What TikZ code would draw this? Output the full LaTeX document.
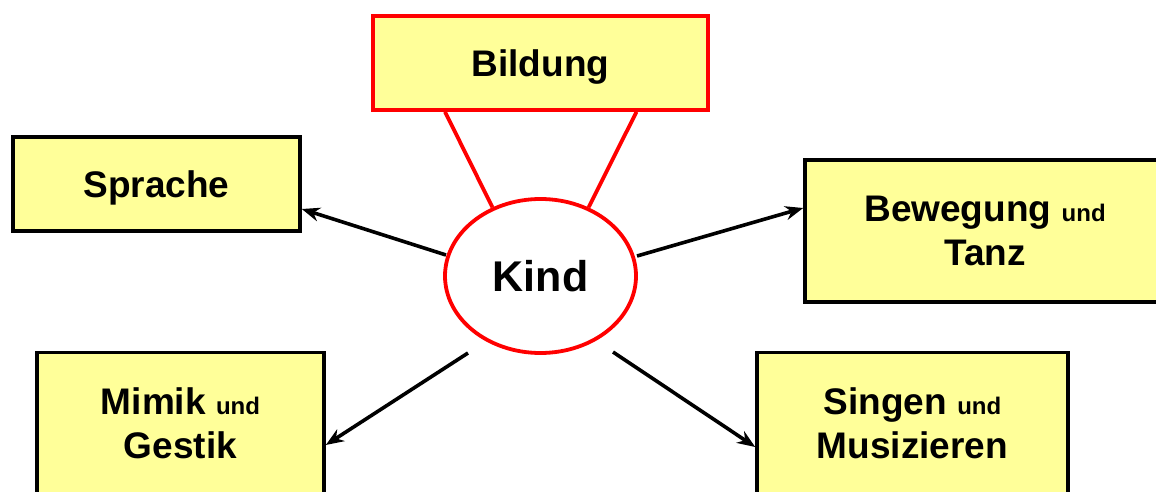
\documentclass[tikz,border=0pt]{standalone}
\usepackage{fontspec}
\setmainfont{Liberation Sans}
\usetikzlibrary{arrows.meta,shapes.geometric}
\definecolor{boxfill}{HTML}{FFFF99}
\definecolor{kred}{HTML}{FF0000}
\newcommand{\smallund}{{\fontsize{24}{24}\selectfont und}}
\begin{document}
\begin{tikzpicture}[x=1pt,y=-1pt,
  box/.style={draw=black, line width=3.6pt, fill=boxfill, inner sep=0pt, align=center,
    font=\fontsize{37}{44}\selectfont\bfseries},
  onebox/.style={box, text depth=0pt},
  arr/.style={-{Stealth[length=18pt,width=14pt]}, line width=3.6pt},
  link/.style={draw=kred, line width=3.8pt}]
\useasboundingbox (0,0) rectangle (1156,492);
\clip (0,0) rectangle (1156,492);
\node[onebox, draw=kred, minimum width=335pt, minimum height=94pt] (bildung) at (540.5,63) {Bildung};
\node[onebox, minimum width=287pt, minimum height=94pt] (sprache) at (156.5,184) {Sprache};
\node[box, minimum width=360pt, minimum height=142pt] (bewegung) at (985,231) {Bewegung \smallund\\Tanz};
\node[box, minimum width=287pt, minimum height=142.4pt] (mimik) at (180.5,423.5) {Mimik \smallund\\Gestik};
\node[box, minimum width=311pt, minimum height=142.4pt] (singen) at (912.5,423.5) {Singen \smallund\\Musizieren};
\node[ellipse, draw=kred, line width=3.8pt, fill=white, minimum width=191pt, minimum height=154pt,
  inner sep=0pt, text depth=0pt, font=\fontsize{43}{43}\selectfont\bfseries] (kind) at (540.5,276) {Kind};
\coordinate (k1) at (446,255);
\coordinate (k2) at (637,256);
\coordinate (k3) at (468,353);
\coordinate (k4) at (613,352);
\draw[link] ([xshift=-95.5pt]bildung.south) -- (kind.125);
\draw[link] ([xshift=96pt]bildung.south) -- (kind.55);
\draw[arr] (k1) -- ([yshift=-25pt]sprache.east);
\draw[arr] (k2) -- ([yshift=23pt]bewegung.west);
\draw[arr] (k3) -- ([yshift=-21.5pt]mimik.east);
\draw[arr] (k4) -- ([yshift=-23.5pt]singen.west);
\end{tikzpicture}
\end{document}
